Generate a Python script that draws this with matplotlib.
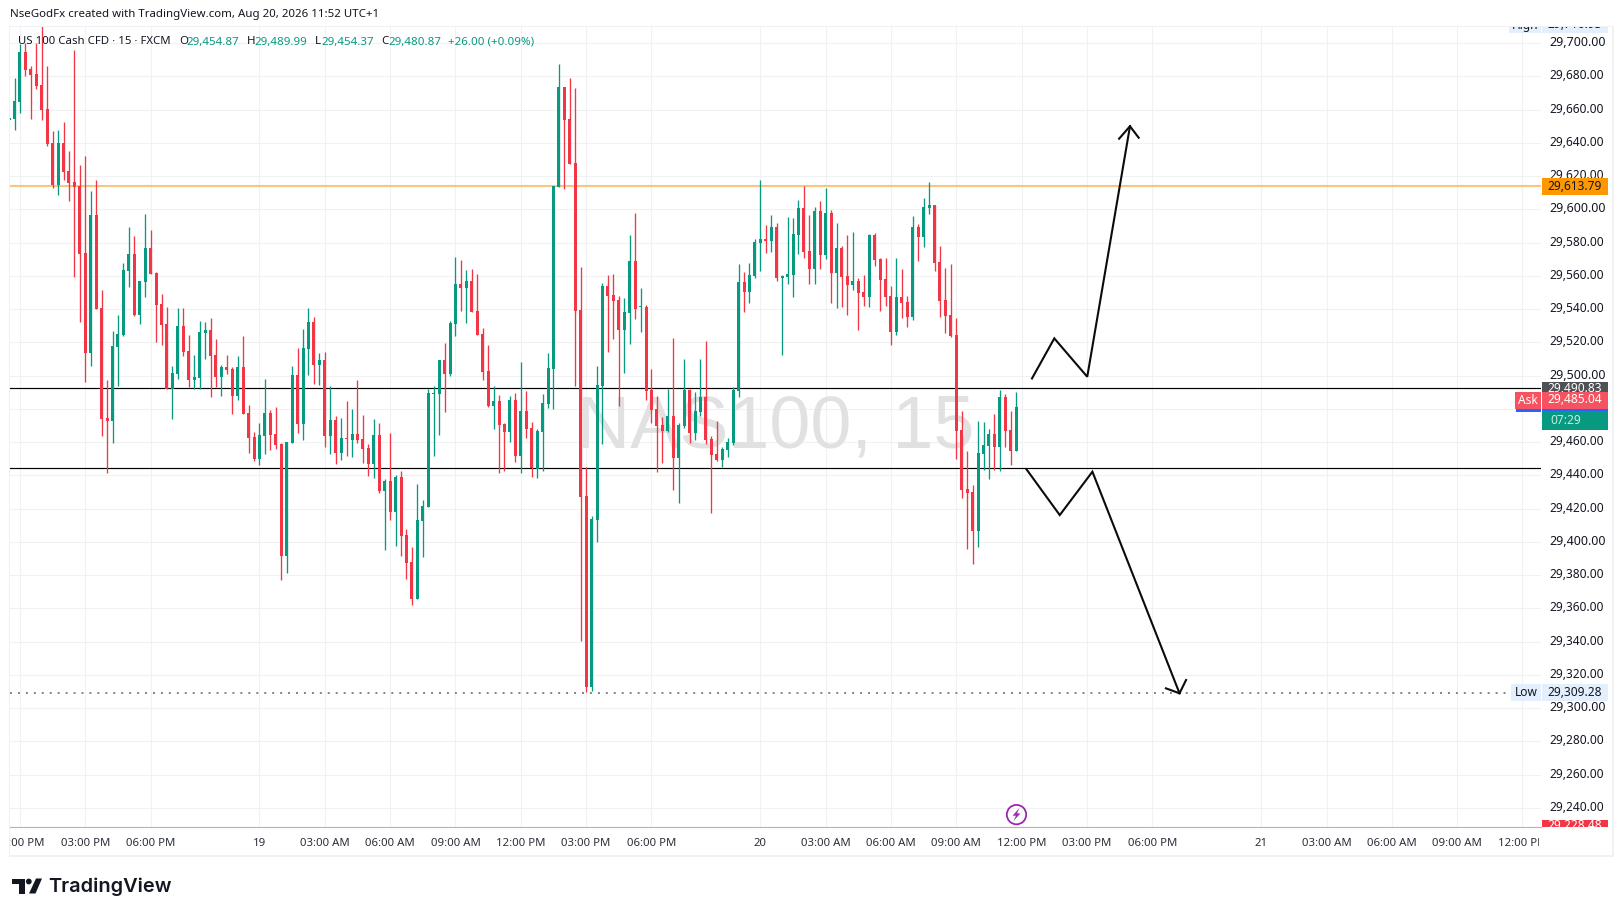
import matplotlib
matplotlib.use("Agg")
import matplotlib.pyplot as plt
import numpy as np
from matplotlib.patches import Rectangle, Polygon, Circle
from matplotlib.transforms import Bbox, ScaledTranslation

W, H = 1623, 916
GREEN, RED = "#089981", "#F23645"
FONT = "Noto Sans"
plt.rcParams["font.family"] = [FONT, "DejaVu Sans"]

# ---------- data ----------
OPEN = [
 29654,29654.6,29664.8,29694.6,29684.4,29681.4,29674.8,29660.4,29640,29614.8,
 29640,29623.2,29616.6,29614.2,29574,29513.4,29596.8,29540.4,29474.4,29472.6,
 29517,29524.2,29563.2,29573.4,29536.2,29556.6,29577,29562,29542.8,29530.8,
 29491.8,29500.8,29529.6,29514.6,29497.2,29498.4,29525.4,29527.2,29512.2,29499,
 29505,29503.8,29487.6,29505,29477.4,29463,29449.8,29463.6,29477.4,29464.8,
 29458.8,29391.6,29459.4,29500.2,29470.8,29515.8,29532,29506.2,29509.2,29463.6,
 29473.2,29453.4,29462.4,29461.2,29464.8,29461.8,29456.4,29446.8,29464.2,29430.6,
 29436.6,29418,29439,29404.2,29388,29365.8,29412.7,29421.1,29489,29488.9,
 29509.3,29500.9,29531.2,29555.2,29552.8,29557,29539,29525.2,29502.7,29481.7,
 29484.7,29470.9,29466.1,29485.3,29451.7,29478.7,29468.5,29444,29466.1,29482.9,
 29503.9,29613.4,29673.4,29654.2,29627.8,29539.6,29427.7,29312.5,29413.3,29493.7,
 29554,29548.6,29545.6,29527.6,29537.8,29569,29541,29541.4,29491.3,29479.9,
 29470.3,29466.7,29475.7,29450.5,29469.7,29491.3,29465.5,29478.1,29487.1,29461.9,
 29452.9,29449.3,29455.3,29459.5,29490.7,29556.4,29550.4,29560,29579.8,29582.2,
 29581,29589.4,29558.8,29559.4,29560.6,29584.6,29600.8,29575,29564.2,29599,
 29572.6,29597.8,29561.8,29576.8,29560,29554.6,29557,29550.4,29547.4,29584.6,
 29570.2,29558.2,29548,29526.4,29547.4,29544.4,29535.4,29589.4,29583.4,29600.8,
 29602.6,29568.4,29545.6,29536.6,29524.6,29467.3,29431.9,29430.1,29406.7,29452.9,
 29457.7,29464.9,29457.1,29487.1,29467.3,29454.87]
HIGH = [
 29655,29679,29699.4,29699.8,29686.2,29699.8,29712,29686.2,29647.2,29647.8,
 29652.6,29635.2,29695.8,29626.8,29632.2,29611.2,29617.8,29551.2,29497.2,29526.6,
 29536.2,29568,29589.6,29584.2,29557.2,29597.4,29587.8,29562.6,29548.8,29541,
 29505.6,29540.4,29540.4,29524.2,29512.2,29532.6,29532,29534.4,29522.2,29506.2,
 29512.2,29505,29511.6,29523.6,29482.2,29466,29471.4,29497.8,29479.2,29481,
 29459.4,29460,29505.6,29516.4,29527.8,29540.4,29535,29513.4,29514,29493.6,
 29475.6,29474.4,29484.6,29479.8,29497.2,29476.2,29458.8,29473.8,29471.4,29437.8,
 29465.4,29440.2,29442.6,29407.8,29397,29434.8,29425.3,29491.7,29493.7,29509.3,
 29519.5,29533,29571.4,29569.6,29563.6,29564.2,29561.2,29528.8,29518.3,29493.7,
 29488.3,29471.5,29487.7,29489.5,29508.1,29490.7,29472.1,29468,29488.9,29513.5,
 29614,29687.2,29673.4,29678.8,29672.8,29565.4,29445.1,29415.7,29505.7,29555.8,
 29560.6,29561.2,29548,29546.8,29584.6,29597.8,29552.8,29542.6,29503.9,29487.7,
 29475.1,29491.9,29522.6,29471.5,29509.9,29491.9,29490.1,29509.9,29520.7,29463.7,
 29472.7,29457.1,29462.5,29493.1,29567.2,29562.4,29567.8,29582.2,29617.6,29590.6,
 29596.6,29591.8,29560.6,29595.4,29594.8,29605.6,29614,29596.6,29601.4,29605,
 29612.8,29599.6,29591.8,29578,29584.6,29586.4,29558.8,29560.6,29585.2,29585.8,
 29570.8,29570.8,29554,29570.8,29564.2,29548,29596,29591.2,29606.8,29616.4,
 29602.6,29578,29564.8,29567.2,29534.8,29478.7,29454.7,29434.3,29472.7,29472.1,
 29467.9,29476.9,29491.3,29488.9,29478.7,29489.99]
LOW = [
 29654,29648,29658.2,29680.2,29654.6,29672.6,29653.8,29638.2,29613,29608.8,
 29617.8,29605.2,29559.6,29532.2,29496,29505.6,29539.8,29463.6,29441.4,29459.4,
 29493.6,29524,29553.6,29536,29530.8,29547,29561,29520,29518.2,29491.8,
 29473.8,29497.8,29511.6,29493,29491.8,29491.8,29509.8,29487,29493,29487.6,
 29500.8,29476.8,29485.2,29476.8,29453.4,29448.6,29446.2,29452.8,29455.2,29455.8,
 29377.2,29381.4,29459.4,29465.4,29461.2,29500.2,29494.8,29494.2,29457,29452.8,
 29446.8,29449.2,29451.6,29451,29459.4,29447.4,29439.6,29438.4,29429.4,29395.2,
 29413.2,29397.6,29391.6,29377.8,29362.2,29365.8,29391.1,29421.1,29451.7,29464.3,
 29478.1,29500,29524,29539,29531.8,29538.4,29524.6,29497.3,29481.1,29467.9,
 29441.5,29442.7,29460.1,29448.1,29441.5,29462.5,29439.1,29438.5,29442.7,29480.5,
 29480,29613.4,29612.2,29627.2,29493.7,29340.1,29309.9,29310,29400.1,29459,
 29514,29522,29481.7,29501.5,29519,29534.2,29526.4,29485.3,29471.5,29442.1,
 29447.5,29466.1,29431.3,29423.5,29468.5,29459.5,29461.3,29475.7,29458.9,29417.5,
 29448.7,29445.1,29451.1,29458.3,29487.1,29538.4,29543.8,29558.8,29563,29573.8,
 29574.4,29557,29512.6,29555.2,29547.4,29573.2,29570.8,29555.2,29555.2,29564.2,
 29570.2,29543.8,29540.8,29541.4,29536.6,29551.6,29527.6,29542,29541.4,29566,
 29539,29542,29518.6,29524.6,29534.8,29529.4,29533.6,29569,29577.4,29597.2,
 29563,29535.4,29525.8,29523.4,29449.9,29426.5,29395.9,29386.9,29397.1,29443.3,
 29437.9,29443.3,29442.7,29457.1,29446.3,29454.37]
CLOSE = [
 29655,29665.2,29694.6,29684,29681,29674.2,29659.8,29639.4,29614.8,29640,
 29622.6,29616,29613.6,29573.4,29513.4,29596.8,29539.8,29473.8,29472.6,29517.6,
 29524.8,29563.8,29573.4,29536.2,29557.2,29577,29561.4,29542.2,29530.2,29491.8,
 29501.4,29529.6,29514,29497.2,29499,29526,29527.2,29511.6,29499,29505,
 29503.2,29487.6,29505,29476.8,29462.4,29449.8,29464.2,29477.4,29464.2,29458.2,
 29391.6,29460,29500.2,29470.8,29516.4,29532,29506.2,29509.2,29463.6,29473.2,
 29453.4,29462.4,29461.8,29464.8,29461.2,29455.8,29446.8,29464.2,29430.6,29436.6,
 29418,29439,29403.6,29387.4,29365.8,29413.2,29421.7,29489.5,29489.6,29509.3,
 29500.9,29531.6,29555.2,29552.8,29557,29538.4,29524.6,29502,29481.7,29484.7,
 29470.3,29466.1,29485.3,29451.7,29478.7,29467.9,29444.5,29466.7,29483.5,29504.5,
 29614,29673.4,29653.6,29627.2,29539,29427.1,29312.5,29413.9,29494.3,29554,
 29548,29545,29527.6,29538.4,29569,29540.2,29541.2,29490.7,29479.3,29469.7,
 29466.7,29475.7,29450.5,29470.3,29491.3,29465.5,29478.7,29487.1,29461.3,29452.3,
 29449.3,29455.9,29460.1,29491.3,29556.4,29550.4,29560.6,29580.4,29582.2,29581,
 29589.4,29558.8,29560,29561.2,29585.2,29600.8,29574.4,29564.2,29599,29572.6,
 29597.8,29561.8,29576.8,29559.4,29554.6,29557,29549.8,29547.4,29584.6,29569.6,
 29557.6,29547.4,29526.4,29547.4,29543.8,29535.4,29589.4,29583.4,29601.4,29602.6,
 29567.8,29545,29536,29524,29466.7,29431.3,29429.5,29406.7,29453.5,29458.3,
 29464.9,29457.1,29487.1,29466.7,29454.7,29480.87]

TIME_TICKS = [2,14,26,46,58,70,82,94,106,118,138,150,162,174,186,198,210,230,242,254,266,278]
TIME_LABELS = ["12:00 PM","03:00 PM","06:00 PM","19","03:00 AM","06:00 AM","09:00 AM","12:00 PM",
               "03:00 PM","06:00 PM","20","03:00 AM","06:00 AM","09:00 AM","12:00 PM","03:00 PM",
               "06:00 PM","21","03:00 AM","06:00 AM","09:00 AM","12:00 PM"]
PRICE_TICKS = list(range(29240, 29701, 20))

RESISTANCE = 29613.79
LEVEL_UP = 29492.3
LEVEL_DOWN = 29444.3
SESSION_LOW = 29309.28
SESSION_BOTTOM = 29228.48

UP_BARS = [187.9, 192, 198.05, 205.9]
UP_PRICES = [29498.3, 29522.4, 29499.3, 29650]
UP_HEAD_BARS = [203.9, 205.9, 207.5]
UP_HEAD_PRICES = [29642.5, 29650, 29643.1]
DOWN_BARS = [186.9, 193, 199, 215]
DOWN_PRICES = [29443.6, 29416.1, 29442.2, 29308.9]
DOWN_HEAD_BARS = [212.5, 215, 216.2]
DOWN_HEAD_PRICES = [29311.9, 29308.9, 29316.9]

# ---------- figure ----------
fig = plt.figure(figsize=(W / 100, H / 100), dpi=100, facecolor="white")
PL, PR, PT, PB = 10, 1541, 26, 827.3
ax = fig.add_axes([PL / W, (H - PB) / H, (PR - PL) / W, (PB - PT) / H])
ax.set_xlim(0.17, 281.4)
ax.set_ylim(29228.3, 29710.3)
for s in ax.spines.values():
    s.set_visible(False)
ax.set_axisbelow(True)
ax.grid(True, color="#f0f1f3", lw=0.8)
ax.yaxis.tick_right()
ax.set_yticks(PRICE_TICKS)
ax.set_yticklabels([f"{p:,.2f}" for p in PRICE_TICKS], fontsize=8.6, color="#131722")
ax.set_xticks(TIME_TICKS)
ax.set_xticklabels(TIME_LABELS, fontsize=8.2, color="#2a2e39")
ax.tick_params(axis="y", length=0, pad=5.9)
ax.tick_params(axis="x", length=0, pad=7.8)
up2 = ScaledTranslation(0, 2 / 100, fig.dpi_scale_trans)
for p, lab in zip(PRICE_TICKS, ax.get_yticklabels()):
    lab.set_transform(lab.get_transform() + up2)
    if p % 100 == 0:
        lab.set_fontsize(9.0)
clip = Bbox([[9.5, 0], [1539, H]])
for lab in ax.get_xticklabels():
    lab.set_clip_box(clip)
    lab.set_clip_on(True)

o, h, l, c = map(np.array, (OPEN, HIGH, LOW, CLOSE))
x = np.arange(len(o))
cols = np.where(c >= o, GREEN, RED)

ax.text(140.9, 29468.4, "NAS100, 15", fontsize=53, color="#e1e1e1", ha="center", va="center",
        family="Liberation Sans", zorder=0.8)
ax.axhline(LEVEL_UP, color="black", lw=0.85, zorder=1)
ax.axhline(LEVEL_DOWN, color="black", lw=0.85, zorder=1)
ax.axhline(RESISTANCE, color="#f9c67f", lw=1.5, zorder=1)
ax.vlines(x, l, h, colors=cols, lw=0.95, zorder=2)
ax.bar(x, np.maximum(np.abs(c - o), 0.6), bottom=np.minimum(o, c), width=3 / 5.444, color=cols, lw=0, zorder=3)

ax.plot([0.17, 276.5], [SESSION_LOW] * 2, color="#787b86", lw=1.3, ls=(0, (1.1, 3.3)), zorder=1)
for xs, ys in ((UP_BARS, UP_PRICES), (UP_HEAD_BARS, UP_HEAD_PRICES),
               (DOWN_BARS, DOWN_PRICES), (DOWN_HEAD_BARS, DOWN_HEAD_PRICES)):
    ax.plot(xs, ys, color="#0b0b0b", lw=1.5, zorder=4, solid_joinstyle="miter")
ax.axhline(SESSION_BOTTOM, color="#ec9aa0", lw=0.8, clip_on=False, zorder=4)

# ---------- overlay in pixels ----------
ov = fig.add_axes([0, 0, 1, 1], zorder=5)
ov.set_xlim(0, W)
ov.set_ylim(H, 0)
ov.axis("off")
ov.patch.set_visible(False)

def box(x0, y0, x1, y1, color, z=2):
    ov.add_patch(Rectangle((x0, y0), x1 - x0, y1 - y0, color=color, lw=0, zorder=z))

def txt(x_, y_, s, color="#131722", size=8.6, ha="left", **kw):
    return ov.text(x_, y_, s, color=color, fontsize=size, ha=ha, va="center", zorder=5, **kw)

FR = "#f1f1f3"
box(8.5, 26, 10, 856.5, FR, 1)
box(8.5, 25.5, 1614, 27, FR, 1)
box(1611.5, 25.5, 1614, 856.5, FR, 1)
box(8.5, 854.5, 1614, 856.5, FR, 1)

txt(10, 15, "NseGodFx created with TradingView.com, Aug 20, 2026 11:52 UTC+1", size=8.25)

TEAL = "#089981"
LEG = 42
txt(18, LEG, "US 100 Cash CFD · 15 · FXCM", size=8.2)
txt(179, LEG, "O", size=8.3); txt(186.5, LEG, "29,454.87", TEAL, 8.3)
txt(247, LEG, "H", size=8.3); txt(254.5, LEG, "29,489.99", TEAL, 8.3)
txt(315, LEG, "L", size=8.3); txt(321.5, LEG, "29,454.37", TEAL, 8.3)
txt(381, LEG, "C", size=8.3); txt(388.5, LEG, "29,480.87", TEAL, 8.3)
txt(448, LEG, "+26.00 (+0.09%)", TEAL, 8.3)

PALE = "#e3effd"
# High, clipped by the pane top
box(1509, 27, 1541, 33, PALE); box(1542, 27, 1608, 33, PALE)
hb = Bbox([[1500, H - 33], [1610, H - 27]])
for t in (txt(1525, 25, "High", ha="center"), txt(1575, 25, "29,710.93", ha="center")):
    t.set_clip_box(hb); t.set_clip_on(True)

# Resistance
box(1542, 178, 1608, 195, "#ff9800")
txt(1575, 186, "29,613.79", ha="center")
# Stack of price tags
box(1542, 382, 1608, 392, "#4f5156")
t = txt(1575, 388, "29,490.83", "white", ha="center")
t.set_clip_box(Bbox([[1540, H - 392], [1610, H - 380]])); t.set_clip_on(True)
box(1542, 392, 1608, 409, "#f7525f", 3)
txt(1575, 399.8, "29,485.04", "white", ha="center")
box(1515, 392, 1541, 409, "#f7525f", 3)
txt(1528, 400.5, "Ask", "white", ha="center")
box(1516, 409, 1541, 412, "#2962ff", 3)
box(1542, 409, 1608, 412, "#2962ff", 3)
box(1542, 411, 1608, 430, "#089981", 3)
txt(1550, 420.5, "07:29", "#c7ebe5")
# Low
box(1511, 684, 1541, 701, PALE); box(1542, 684, 1608, 701, PALE)
txt(1526, 692.5, "Low", ha="center")
txt(1575, 692, "29,309.28", ha="center")
# bottom red tag
box(1542, 819.7, 1608, 827.3, "#f23645")
t = txt(1575, 825.5, "29,228.48", "white", ha="center")
t.set_clip_box(Bbox([[1540, H - 827.3], [1610, H - 819]])); t.set_clip_on(True)

# lightning icon
ov.add_patch(Circle((1016.5, 814.6), 9.7, fill=False, ec="#9c27b0", lw=1.3, zorder=4))
ov.add_patch(Polygon([(1019.5, 808), (1012.5, 815.7), (1016, 815.7), (1013.5, 821),
                      (1020.5, 813.4), (1017, 813.4)], closed=True, color="#9c27b0", lw=0, zorder=4))

# TradingView logo
INK = "#131722"
ov.add_patch(Polygon([(12, 878.5), (24.5, 878.5), (24.5, 893.5), (18.5, 893.5), (18.5, 884), (12, 884)],
                     closed=True, color=INK, lw=0))
ov.add_patch(Circle((28.8, 881.5), 2.9, color=INK, lw=0))
ov.add_patch(Polygon([(36, 878.5), (42, 878.5), (35.5, 893.5), (29, 893.5)], closed=True, color=INK, lw=0))
txt(48.5, 887, "TradingView", INK, 14.4, family="Inter", weight="semibold")

fig.savefig("out.png", dpi=100)
